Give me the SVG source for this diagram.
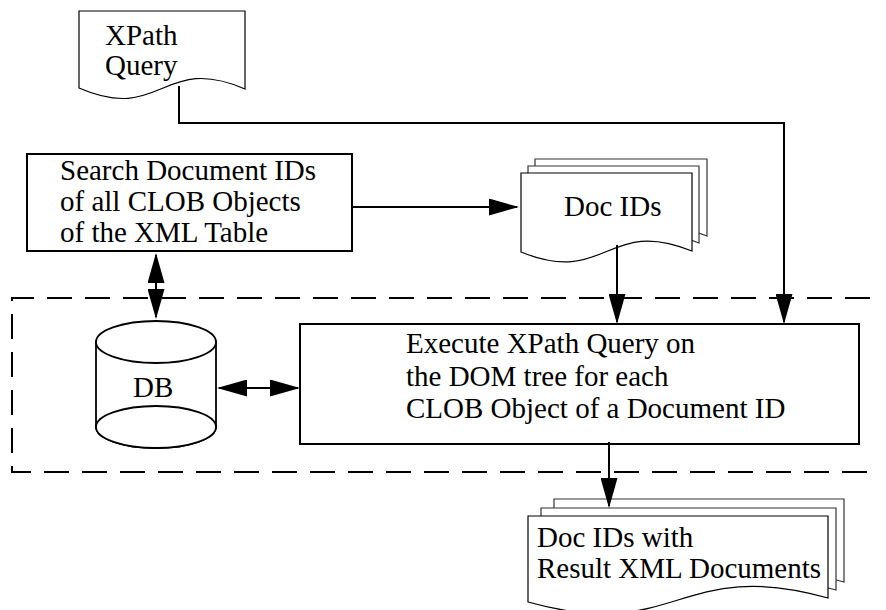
<svg xmlns="http://www.w3.org/2000/svg" width="886" height="610" viewBox="0 0 886 610">
  <style>
    text { font-family: "Liberation Serif", "Times New Roman", serif; font-size: 29px; fill: #000; }
    .box { fill: #fff; stroke: #000; stroke-width: 2; }
    .doc { fill: #fff; stroke: #000; stroke-width: 1.2; }
    .page { fill: #fff; stroke: #333; stroke-width: 1.2; }
    .db { fill: #fff; stroke: #000; stroke-width: 1.8; }
    .link { fill: none; stroke: #000; stroke-width: 2; }
    .frame { fill: none; stroke: #000; stroke-width: 2; stroke-dasharray: 25 13; }
  </style>
  <defs>
    <marker id="arrow" viewBox="0 0 30 17" refX="28" refY="8.5" markerWidth="30" markerHeight="17" markerUnits="userSpaceOnUse" orient="auto-start-reverse">
      <path d="M0,0 L30,8.5 L0,17 Z" fill="#000"/>
    </marker>
  </defs>

  <!-- dashed boundary around the database and query execution -->
  <path class="frame" d="M870,298 H12 V472 H870"/>

  <!-- XPath query document -->
  <g id="xpath-query">
    <path class="doc" d="M79,11 H245 V89 C162,53 162,124 79,88 Z"/>
    <text x="105" y="45">XPath</text>
    <text x="105" y="75">Query</text>
  </g>

  <!-- search step -->
  <g id="search-ids">
    <rect class="box" x="27" y="154" width="325" height="97"/>
    <text x="60" y="180">Search Document IDs</text>
    <text x="60" y="211">of all CLOB Objects</text>
    <text x="60" y="242">of the XML Table</text>
  </g>

  <!-- stack of document id pages -->
  <g id="doc-ids">
    <path class="page" d="M535,159 H707 V236 C621,201 621,273 535,238 Z"/>
    <path class="page" d="M528,166 H699 V243 C613.5,208 613.5,280 528,245 Z"/>
    <path class="doc" d="M521,173 H692 V251 C606.5,216 606.5,287 521,252 Z"/>
    <text x="564" y="216">Doc IDs</text>
  </g>

  <!-- database cylinder -->
  <g id="db">
    <path class="db" d="M96,342 V427 A60,21 0 0 0 216,427 V342 Z"/>
    <ellipse class="db" cx="156" cy="427" rx="60" ry="21"/>
    <ellipse class="db" cx="156" cy="342" rx="60" ry="21"/>
    <text x="133" y="397">DB</text>
  </g>

  <!-- query execution step -->
  <g id="execute-query">
    <rect class="box" x="300" y="324" width="559" height="120"/>
    <text x="406" y="353">Execute XPath Query on</text>
    <text x="406" y="386">the DOM tree for each</text>
    <text x="406" y="418">CLOB Object of a Document ID</text>
  </g>

  <!-- stack of result pages -->
  <g id="results">
    <path class="page" d="M554,499 H844 V582 C699,540 699,628 554,586 Z"/>
    <path class="page" d="M541,508 H836 V590 C688.5,548 688.5,636 541,594 Z"/>
    <path class="doc" d="M528,516 H828 V598 C678,556 678,644 528,602 Z"/>
    <text x="537" y="547">Doc IDs with</text>
    <text x="537" y="578">Result XML Documents</text>
  </g>

  <!-- connectors -->
  <g id="connectors">
    <path class="link" d="M352,207 H517" marker-end="url(#arrow)"/>
    <path class="link" d="M156,255 V317" marker-start="url(#arrow)" marker-end="url(#arrow)"/>
    <path class="link" d="M219,388 H298" marker-start="url(#arrow)" marker-end="url(#arrow)"/>
    <path class="link" d="M617,245 V322" marker-end="url(#arrow)"/>
    <path class="link" d="M179,86 V123 H784 V322" marker-end="url(#arrow)"/>
    <path class="link" d="M609,442 V506" marker-end="url(#arrow)"/>
  </g>
</svg>
